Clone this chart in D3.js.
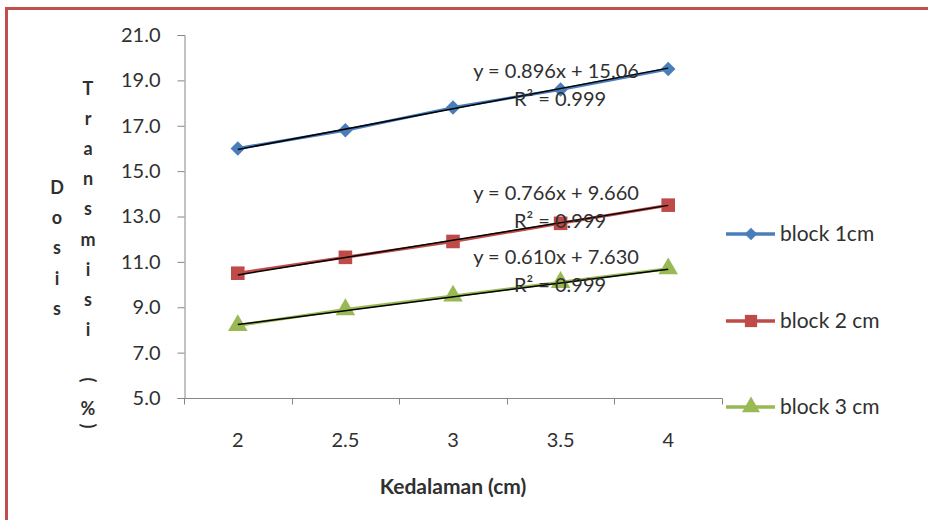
<!DOCTYPE html>
<html>
<head>
<meta charset="utf-8">
<script src="https://cdn.jsdelivr.net/npm/d3@7"></script>
<style>
  html, body { margin: 0; padding: 0; background: #ffffff; }
  svg { display: block; }
  text { font-family: Lato, "Open Sans", sans-serif; fill: #303030; }
</style>
</head>
<body>
<svg id="chart" width="928" height="520"></svg>
<script>
// ---- data ----
const categories = ["2", "2.5", "3", "3.5", "4"];
const block1 = [16.0, 16.8, 17.8, 18.6, 19.5];
const block2 = [10.5, 11.2, 11.9, 12.7, 13.5];
const block3 = [8.2, 8.9, 9.5, 10.1, 10.7];
const seriesNames = ["block 1cm", "block 2 cm", "block 3 cm"];
const trendSlopes = [0.896, 0.766, 0.610];
const trendIntercepts = [15.06, 9.660, 7.630];
const trendLabels = ["y = 0.896x + 15.06", "y = 0.766x + 9.660", "y = 0.610x + 7.630"];
const r2Labels = ["R² = 0.999", "R² = 0.999", "R² = 0.999"];
const yTicks = [5, 7, 9, 11, 13, 15, 17, 19, 21];
const xTitle = "Kedalaman (cm)";
const yTitle1 = "Dosis";
const yTitle2 = "Transmisi";

// ---- layout ----
const W = 928, H = 520;
const plot = { left: 184, right: 722, top: 35, bottom: 398 };
const colors = ["#4A7EBB", "#BE4B48", "#98B954"];
const shapes = [d3.symbolSquare, d3.symbolSquare, d3.symbolTriangle];
const rotations = [45, 0, 0];
const markerSizes = [105, 185, 165];
const legendSizes = [80, 150, 140];
const series = [block1, block2, block3];

const svg = d3.select("#chart");

// background + red frame (top and left)
svg.append("rect").attr("x", 0).attr("y", 0).attr("width", W).attr("height", H).attr("fill", "#fff");
svg.append("line").attr("x1", 5).attr("x2", W).attr("y1", 8.5).attr("y2", 8.5)
  .attr("stroke", "#C0504D").attr("stroke-width", 3);
svg.append("line").attr("x1", 6.5).attr("x2", 6.5).attr("y1", 7).attr("y2", H)
  .attr("stroke", "#C0504D").attr("stroke-width", 3);

const x = d3.scaleBand().domain(categories).range([plot.left, plot.right]).paddingInner(0).paddingOuter(0);
const y = d3.scaleLinear().domain([5, 21]).range([plot.bottom, plot.top]);
const cx = c => x(c) + x.bandwidth() / 2;

// y axis
const yAxis = d3.axisLeft(y).tickValues(yTicks).tickFormat(d3.format(".1f")).tickSize(7).tickPadding(17);
const gy = svg.append("g").attr("transform", `translate(${plot.left + 0.5},0)`).call(yAxis);
gy.select(".domain").attr("stroke", "#868686");
gy.selectAll(".tick line").attr("stroke", "#868686");
gy.selectAll(".tick text").attr("font-size", 20).attr("font-family", "Lato, sans-serif").attr("fill", "#303030");

// x axis
const gx = svg.append("g").attr("transform", `translate(0,${plot.bottom + 0.5})`);
gx.append("line").attr("x1", plot.left).attr("x2", plot.right + 0.5).attr("stroke", "#868686");
const boundaries = categories.map(c => x(c)).concat([x(categories[categories.length - 1]) + x.bandwidth()]);
gx.selectAll("line.tk").data(boundaries).join("line").attr("class", "tk")
  .attr("x1", d => Math.round(d) + 0.5).attr("x2", d => Math.round(d) + 0.5)
  .attr("y1", 0).attr("y2", 6).attr("stroke", "#868686");
gx.selectAll("text").data(categories).join("text")
  .attr("x", d => cx(d)).attr("y", 48).attr("text-anchor", "middle")
  .attr("font-size", 20).text(d => d);

// series lines
const line = d3.line().x((d, i) => cx(categories[i])).y(d => y(d));
series.forEach((s, k) => {
  svg.append("path").datum(s).attr("d", line).attr("fill", "none")
    .attr("stroke", colors[k]).attr("stroke-width", 3).attr("stroke-linejoin", "round");
});
// markers
series.forEach((s, k) => {
  svg.append("g").selectAll("path").data(s).join("path")
    .attr("transform", (d, i) => `translate(${cx(categories[i])},${y(d)}) rotate(${rotations[k]})`)
    .attr("d", d3.symbol().type(shapes[k]).size(markerSizes[k]))
    .attr("fill", colors[k]);
});
// trendlines (x index 1..n)
series.forEach((s, k) => {
  const pts = [1, categories.length].map(i => [cx(categories[i - 1]), y(trendSlopes[k] * i + trendIntercepts[k])]);
  svg.append("line").attr("x1", pts[0][0]).attr("y1", pts[0][1]).attr("x2", pts[1][0]).attr("y2", pts[1][1])
    .attr("stroke", "#000").attr("stroke-width", 1.5);
});
// equation labels
const eqBase = [78, 200, 264];
trendLabels.forEach((t, k) => {
  svg.append("text").attr("x", 556).attr("y", eqBase[k]).attr("text-anchor", "middle")
    .attr("font-size", 20).text(t);
  svg.append("text").attr("x", 560).attr("y", eqBase[k] + 28).attr("text-anchor", "middle")
    .attr("font-size", 20).text(r2Labels[k]);
});

// legend
const legY = [234, 321, 407];
seriesNames.forEach((n, k) => {
  const g = svg.append("g").attr("transform", `translate(726,${legY[k]})`);
  g.append("line").attr("x1", 0).attr("x2", 49).attr("stroke", colors[k]).attr("stroke-width", 3.5);
  g.append("path").attr("transform", `translate(25,0) rotate(${rotations[k]})`)
    .attr("d", d3.symbol().type(shapes[k]).size(legendSizes[k])).attr("fill", colors[k]);
  g.append("text").attr("x", 54).attr("y", 7).attr("font-size", 21).text(n);
});

// x title
svg.append("text").attr("x", (plot.left + plot.right) / 2).attr("y", 494).attr("text-anchor", "middle")
  .attr("font-size", 21).attr("font-weight", "bold").attr("fill", "#222").text(xTitle);

// y title: stacked letters in two columns
const yt = svg.append("g").attr("font-weight", "bold").attr("font-size", 18).attr("fill", "#222");
yTitle1.split("").forEach((ch, i) => {
  yt.append("text").attr("x", 57).attr("y", 194 + i * 30.2).attr("text-anchor", "middle").text(ch);
});
yTitle2.split("").forEach((ch, i) => {
  yt.append("text").attr("x", 88).attr("y", 95 + i * 30.1).attr("text-anchor", "middle").text(ch);
});
yt.append("text").attr("transform", "translate(88,380) rotate(90)").attr("text-anchor", "middle").attr("dy", 6).text("(");
yt.append("text").attr("x", 88).attr("y", 415).attr("text-anchor", "middle").text("%");
yt.append("text").attr("transform", "translate(88,426) rotate(90)").attr("text-anchor", "middle").attr("dy", 6).text(")");
</script>
</body>
</html>
